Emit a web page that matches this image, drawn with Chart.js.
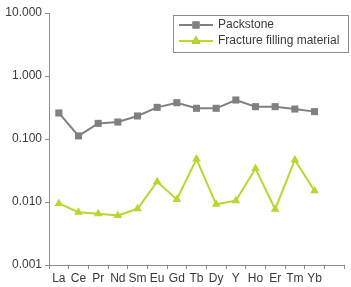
<!DOCTYPE html>
<html>
<head>
<meta charset="utf-8">
<script src="https://cdn.jsdelivr.net/npm/chart.js@4"></script>
<style>
  html, body { margin: 0; padding: 0; background: #fff; }
  #wrap { width: 351px; height: 287px; }
</style>
</head>
<body>
<div id="wrap"><canvas id="myChart" width="351" height="287"></canvas></div>
<script>
// elementos (el ultimo hueco queda sin etiqueta)
const elementos = ['La', 'Ce', 'Pr', 'Nd', 'Sm', 'Eu', 'Gd', 'Tb', 'Dy', 'Y', 'Ho', 'Er', 'Tm', 'Yb', ''];

const packstone = [0.259, 0.112, 0.177, 0.186, 0.232, 0.318, 0.377, 0.307, 0.307, 0.416, 0.326, 0.326, 0.299, 0.272, null];
const fractureFilling = [0.0095, 0.0069, 0.0065, 0.0061, 0.0078, 0.021, 0.011, 0.048, 0.0092, 0.0105, 0.034, 0.0077, 0.0465, 0.0151, null];

const ticksY = [0.001, 0.01, 0.1, 1, 10];

const GRIS = '#808080';
const VERDE = '#bdd52f';
const TEXTO = '#3a3a3a';
const FUENTE = "'Liberation Sans', Arial, sans-serif";

// leyenda dibujada a mano: caja con linea + marcador
const leyendaCaja = {
    id: 'leyendaCaja',
    afterDraw(chart) {
        const ctx = chart.ctx;
        const x0 = 173.5, y0 = 15.5, w = 175, h = 37;
        ctx.save();
        ctx.fillStyle = '#fff';
        ctx.fillRect(x0, y0, w, h);
        ctx.strokeStyle = '#8c8c8c';
        ctx.lineWidth = 1;
        ctx.strokeRect(x0, y0, w, h);

        chart.data.datasets.forEach((ds, i) => {
            const y = 25 + i * 16;
            ctx.strokeStyle = ds.borderColor;
            ctx.lineWidth = 2;
            ctx.beginPath();
            ctx.moveTo(179, y);
            ctx.lineTo(213, y);
            ctx.stroke();
            Chart.helpers.drawPoint(ctx, {
                pointStyle: ds.pointStyle,
                radius: ds.pointRadius,
                rotation: 0,
                borderWidth: 0
            }, 196, y);
            ctx.fillStyle = ds.borderColor;
            Chart.helpers.drawPoint(ctx, {
                pointStyle: ds.pointStyle,
                radius: ds.pointRadius,
                rotation: 0,
                borderWidth: 0
            }, 196, y);
            ctx.fill();

            ctx.fillStyle = TEXTO;
            ctx.font = '12px ' + FUENTE;
            ctx.textBaseline = 'middle';
            ctx.textAlign = 'left';
            ctx.fillText(ds.label, 218, y);
        });
        ctx.restore();
    }
};

const ctx = document.getElementById('myChart').getContext('2d');
const myChart = new Chart(ctx, {
    type: 'line',
    data: {
        labels: elementos,
        datasets: [{
            label: 'Packstone',
            data: packstone,
            borderColor: GRIS,
            backgroundColor: GRIS,
            borderWidth: 2,
            pointStyle: 'rect',
            pointRadius: 5,
            pointBorderWidth: 0
        }, {
            label: 'Fracture filling material',
            data: fractureFilling,
            borderColor: VERDE,
            backgroundColor: VERDE,
            borderWidth: 2,
            pointStyle: 'triangle',
            pointRadius: 5,
            pointBorderWidth: 0
        }]
    },
    options: {
        responsive: false,
        animation: false,
        layout: {
            padding: { left: 0, right: 7, top: 13, bottom: 0 }
        },
        scales: {
            x: {
                type: 'category',
                offset: true,
                grid: {
                    offset: true,
                    drawOnChartArea: false,
                    tickLength: 4,
                    color: '#8c8c8c'
                },
                border: { color: '#8c8c8c', width: 1 },
                ticks: {
                    color: TEXTO,
                    font: { family: FUENTE, size: 12 },
                    padding: 2,
                    maxRotation: 0,
                    autoSkip: false
                },
                afterFit: (scale) => { scale.height = 22; }
            },
            y: {
                type: 'logarithmic',
                min: 0.001,
                max: 10,
                grid: {
                    drawOnChartArea: false,
                    tickLength: 4,
                    color: '#8c8c8c'
                },
                border: { color: '#8c8c8c', width: 1 },
                afterBuildTicks: (scale) => {
                    scale.ticks = ticksY.map(v => ({ value: v }));
                },
                ticks: {
                    color: TEXTO,
                    font: { family: FUENTE, size: 12 },
                    padding: 3,
                    callback: (v) => Number(v).toFixed(3)
                },
                afterFit: (scale) => { scale.width = 49; }
            }
        },
        plugins: {
            legend: { display: false },
            tooltip: { enabled: false }
        }
    },
    plugins: [leyendaCaja]
});
</script>
</body>
</html>
